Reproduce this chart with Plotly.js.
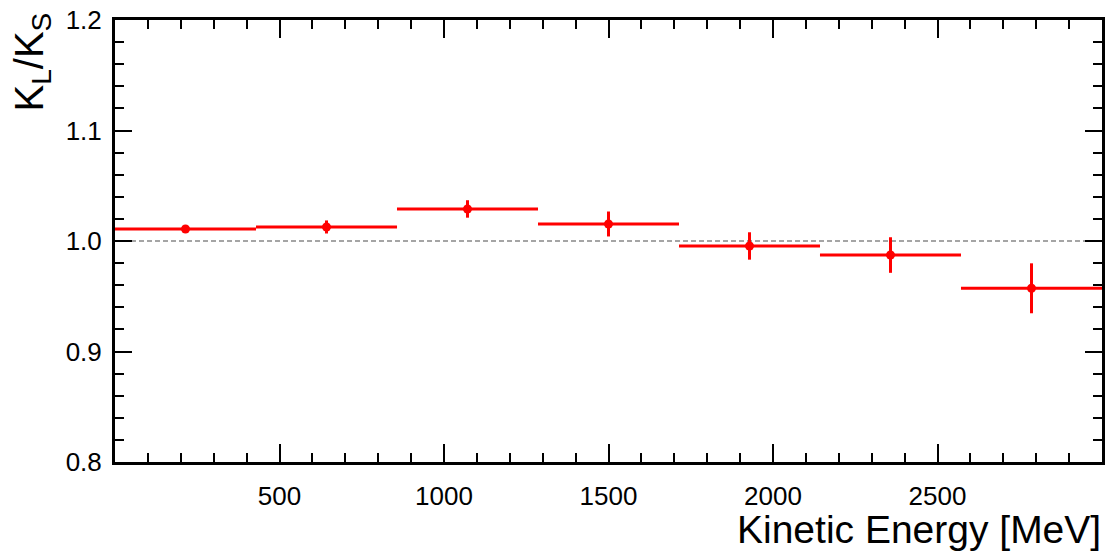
<!DOCTYPE html>
<html>
<head>
<meta charset="utf-8">
<script src="https://cdn.plot.ly/plotly-3.0.1.min.js"></script>
<style>html,body{margin:0;padding:0;background:#fff;}#chart{width:1120px;height:551px;}</style>
</head>
<body>
<div id="chart"></div>
<script>
// Data
const binCenters = [214.3, 642.9, 1071.4, 1500.0, 1928.6, 2357.1, 2785.7];
const binHalfWidths = [214.3, 214.3, 214.3, 214.3, 214.3, 214.3, 214.3];
const ratioValues = [1.0109, 1.0127, 1.0290, 1.0154, 0.9955, 0.9873, 0.9572];
const ratioErrors = [0.0020, 0.0059, 0.0079, 0.0113, 0.0124, 0.0161, 0.0226];
const xTickValues = [500, 1000, 1500, 2000, 2500];
const referenceLevel = 1.0;

const trace = {
  x: binCenters,
  y: ratioValues,
  type: 'scatter',
  mode: 'markers',
  marker: {color: '#ff0000', size: 9, symbol: 'circle'},
  error_x: {type: 'data', array: binHalfWidths, symmetric: true, color: '#ff0000', thickness: 3, width: 0},
  error_y: {type: 'data', array: ratioErrors, symmetric: true, color: '#ff0000', thickness: 3, width: 0},
  showlegend: false,
  hoverinfo: 'x+y'
};

const fontFam = '"Liberation Sans", Arial, Helvetica, sans-serif';

const layout = {
  width: 1120,
  height: 551,
  margin: {l: 114.5, r: 18, t: 20, b: 89, pad: 0},
  paper_bgcolor: '#ffffff',
  plot_bgcolor: '#ffffff',
  font: {family: fontFam, color: '#000000', size: 26},
  xaxis: {
    range: [0, 3000],
    tickmode: 'array',
    tickvals: xTickValues,
    ticks: 'inside',
    ticklen: 18,
    tickwidth: 2,
    tickcolor: '#000',
    showline: true,
    linecolor: '#000',
    linewidth: 3,
    mirror: 'allticks',
    showgrid: false,
    zeroline: false,
    tickfont: {family: fontFam, size: 26, color: '#000'},
    ticklabelstandoff: 9,
    minor: {tickmode: 'linear', tick0: 0, dtick: 100, ticks: 'inside', ticklen: 9, tickwidth: 2, tickcolor: '#000', showgrid: false}
  },
  yaxis: {
    range: [0.8, 1.2],
    tickmode: 'linear',
    tick0: 0.8,
    dtick: 0.1,
    tickformat: '.1f',
    ticks: 'inside',
    ticklen: 17,
    tickwidth: 2,
    tickcolor: '#000',
    showline: true,
    linecolor: '#000',
    linewidth: 3,
    mirror: 'allticks',
    showgrid: false,
    zeroline: false,
    tickfont: {family: fontFam, size: 26, color: '#000'},
    ticklabelstandoff: 5,
    minor: {tickmode: 'linear', tick0: 0.8, dtick: 0.02, ticks: 'inside', ticklen: 9, tickwidth: 2, tickcolor: '#000', showgrid: false}
  },
  shapes: [{
    type: 'line', xref: 'paper', x0: 0, x1: 1, yref: 'y', y0: referenceLevel, y1: referenceLevel,
    line: {color: '#888888', width: 1.5, dash: '5px,3px'}, layer: 'below'
  }],
  annotations: [
    {
      text: 'Kinetic Energy [MeV]', xref: 'paper', yref: 'paper', x: 1, y: 0,
      xanchor: 'right', yanchor: 'top', yshift: -45, xshift: 0, showarrow: false, borderpad: 0,
      font: {family: fontFam, size: 39, color: '#000'}
    },
    {
      text: 'K<sub>L</sub>/K<sub>S</sub>', xref: 'paper', yref: 'paper', x: 0, y: 1,
      xanchor: 'right', yanchor: 'top', xshift: -58, yshift: 8, textangle: -90, showarrow: false, borderpad: 0,
      font: {family: fontFam, size: 40, color: '#000'}
    }
  ]
};

Plotly.newPlot('chart', [trace], layout, {displayModeBar: false, staticPlot: true});
</script>
</body>
</html>
